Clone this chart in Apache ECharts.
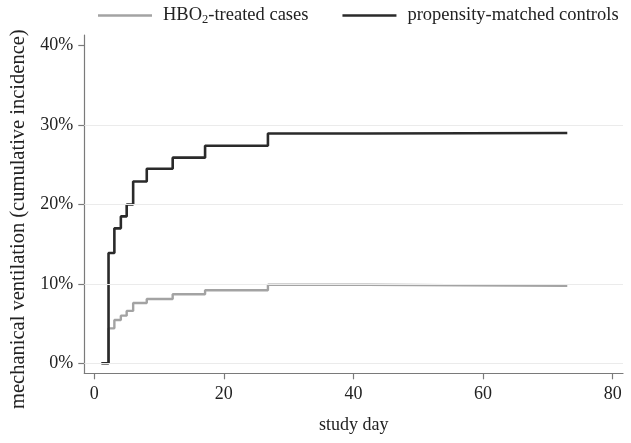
<!DOCTYPE html>
<html>
<head>
<meta charset="utf-8">
<script src="https://cdn.jsdelivr.net/npm/echarts@6/dist/echarts.min.js"></script>
<style>html,body{margin:0;padding:0;background:#fff;}#c{width:631px;height:443px;}</style>
</head>
<body>
<div id="c"></div>
<script>
var xTicks = [0, 20, 40, 60, 80];
var yTicks = [0, 10, 20, 30, 40];
var gridVals = [0, 10, 20, 30];
var ctrlDays = [1.1, 2.2, 3.1, 4.1, 5.0, 6.0, 8.1, 12.1, 17.1, 26.8, 42, 73];
var ctrlVals = [0, 13.9, 17.0, 18.5, 20.0, 22.9, 24.5, 25.9, 27.4, 28.95, 29.0, 29.0];
var hboDays  = [1.1, 2.2, 3.1, 4.1, 5.0, 6.0, 8.1, 12.1, 17.1, 26.8, 42, 73];
var hboVals  = [0, 4.4, 5.45, 6.0, 6.6, 7.6, 8.1, 8.7, 9.2, 9.9, 9.75, 9.75];
var hboName = 'HBO2-treated cases';
var ctrlName = 'propensity-matched controls';

function zip(a, b) { return a.map(function (v, i) { return [v, b[i]]; }); }

var font = 'Liberation Serif';
var chart = echarts.init(document.getElementById('c'), null, {renderer: 'canvas'});
chart.setOption({
  animation: false,
  backgroundColor: '#fff',
  textStyle: {fontFamily: font},
  legend: {
    data: [hboName, ctrlName],
    orient: 'horizontal',
    left: 98, top: 6, padding: 0, width: 600,
    icon: 'rect',
    itemWidth: 54, itemHeight: 2.4, itemGap: 34,
    formatter: function (n) { return n === hboName ? 'HBO{sub|2}-treated cases' : n; },
    textStyle: {
      fontFamily: font, fontSize: 18.5, color: '#222', padding: [0, 0, 0, 6],
      rich: {sub: {fontFamily: font, fontSize: 12.5, verticalAlign: 'bottom', padding: [8, 0, 0, 0], color: '#222'}}
    }
  },
  grid: {left: 84.3, right: 8, top: 35, bottom: 69.7, outerBoundsMode: 'none'},
  xAxis: {
    type: 'value', min: -1.54, max: 81.6,
    name: 'study day', nameLocation: 'middle', nameGap: 43,
    nameTextStyle: {fontFamily: font, fontSize: 18, color: '#222'},
    axisLine: {show: true, onZero: false, lineStyle: {color: '#7a7a7a', width: 1.2}},
    axisTick: {show: true, customValues: xTicks, length: 6, lineStyle: {color: '#7a7a7a', width: 1.2}},
    axisLabel: {customValues: xTicks, margin: 12, fontFamily: font, fontSize: 18, color: '#222'},
    splitLine: {show: false}
  },
  yAxis: {
    type: 'value', min: -1.26, max: 41.35,
    name: 'mechanical ventilation (cumulative incidence)', nameLocation: 'middle', nameGap: 53,
    nameTextStyle: {fontFamily: font, fontSize: 20.5, color: '#222', padding: [0, 30, 0, 0]},
    axisLine: {show: true, onZero: false, lineStyle: {color: '#7a7a7a', width: 1.2}},
    axisTick: {show: true, customValues: yTicks, length: 6, lineStyle: {color: '#7a7a7a', width: 1.2}},
    axisLabel: {customValues: yTicks, margin: 11, fontFamily: font, fontSize: 18, color: '#222',
      padding: [8, 0, 0, 0],
      formatter: function (v) { return v + '%'; }},
    splitLine: {show: false}
  },
  series: [
    {
      name: 'grid', type: 'line', data: [], z: 1, silent: true,
      markLine: {
        silent: true, symbol: ['none', 'none'], label: {show: false},
        lineStyle: {color: '#ebebeb', width: 1.2, type: 'solid'},
        data: gridVals.map(function (v) { return {yAxis: v}; })
      }
    },
    {
      name: hboName, type: 'line', step: 'end', showSymbol: false, symbol: 'none',
      data: zip(hboDays, hboVals), z: 3,
      lineStyle: {color: '#a3a3a3', width: 2.4}, itemStyle: {color: '#a3a3a3'}
    },
    {
      name: ctrlName, type: 'line', step: 'end', showSymbol: false, symbol: 'none',
      data: zip(ctrlDays, ctrlVals), z: 4,
      lineStyle: {color: '#2a2a2a', width: 2.6}, itemStyle: {color: '#2a2a2a'}
    }
  ]
});
</script>
</body>
</html>
